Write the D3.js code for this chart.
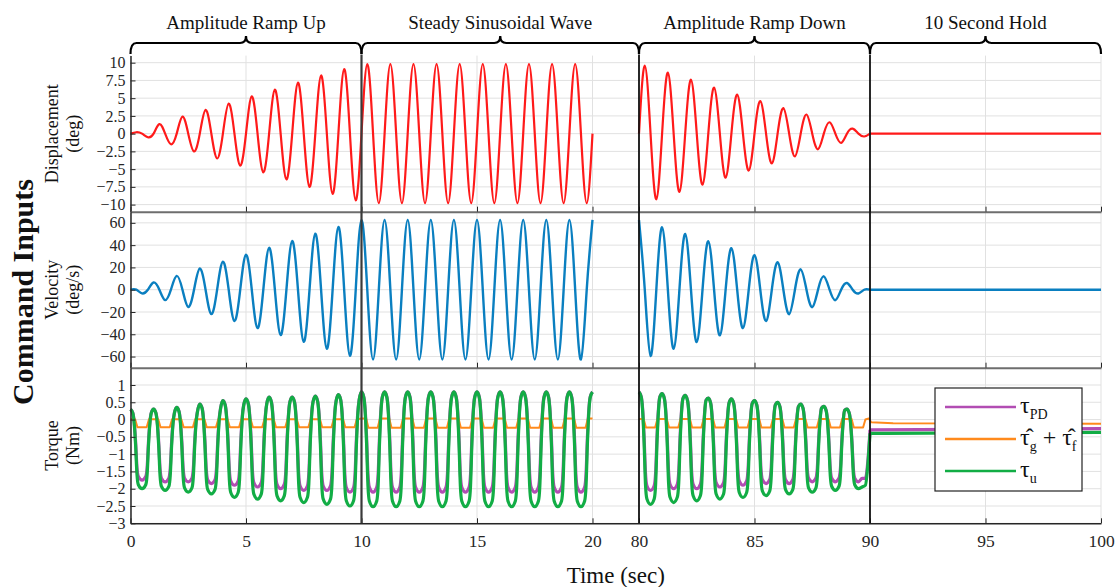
<!DOCTYPE html>
<html>
<head>
<meta charset="utf-8">
<script src="https://cdn.jsdelivr.net/npm/d3@7"></script>
<style>
  html, body { margin: 0; padding: 0; background: #fff; }
  svg { display: block; font-family: "Liberation Serif", "Times New Roman", serif; }
</style>
</head>
<body>
<svg id="chart" width="1119" height="587"></svg>
<script>
// ---------------- data ----------------
const xTicks = [0, 5, 10, 15, 20, 80, 85, 90, 95, 100];
const dispTicks = [-10, -7.5, -5, -2.5, 0, 2.5, 5, 7.5, 10];
const velTicks = [-60, -40, -20, 0, 20, 40, 60];
const torqueTicks = [-3, -2.5, -2, -1.5, -1, -0.5, 0, 0.5, 1];

const phaseNames = ["Amplitude Ramp Up", "Steady Sinusoidal Wave", "Amplitude Ramp Down", "10 Second Hold"];
const phaseFrom = [0, 10, 80, 90];
const phaseTo = [10, 80, 90, 100];

// one-second cycles in each moving phase
const rampUpCycles = [0, 1, 2, 3, 4, 5, 6, 7, 8, 9];
const steadyCycles = [10, 11, 12, 13, 14, 15, 16, 17, 18, 19];
const rampDownCycles = [80, 81, 82, 83, 84, 85, 86, 87, 88, 89];

// displacement (deg): crest at +0.25 s and trough at +0.75 s of each cycle
const dispRampUpHigh = [0.2, 1.35, 2.4, 3.35, 4.25, 5.25, 6.2, 7.2, 8.2, 9.1];
const dispRampUpLow = [-0.5, -1.5, -2.5, -3.5, -4.5, -5.45, -6.45, -7.5, -8.5, -9.4];
const dispSteadyHigh = [9.8, 9.8, 9.8, 9.8, 9.8, 9.8, 9.8, 9.8, 9.8, 9.8];
const dispSteadyLow = [-9.8, -9.8, -9.8, -9.8, -9.8, -9.8, -9.8, -9.8, -9.8, -9.8];
const dispRampDownHigh = [9.6, 8.6, 7.6, 6.5, 5.5, 4.6, 3.6, 2.7, 1.6, 0.7];
const dispRampDownLow = [-9.25, -8.2, -7.2, -6.2, -5.2, -4.2, -3.2, -2.2, -1.3, -0.4];

// velocity (deg/s): crest at the start of each cycle, trough at +0.5 s
const velRampUpHigh = [0, 6.5, 12.4, 19, 25.2, 31.4, 37.6, 43.8, 50.2, 56.4];
const velRampUpLow = [-3.3, -9.3, -15.6, -21.9, -28.2, -34.5, -40.7, -46.8, -53, -59.3];
const velSteadyHigh = [62.6, 62.6, 62.6, 62.6, 62.6, 62.6, 62.6, 62.6, 62.6, 62.6];
const velSteadyLow = [-62.6, -62.6, -62.6, -62.6, -62.6, -62.6, -62.6, -62.6, -62.6, -62.6];
const velRampDownHigh = [62.4, 56, 50, 43.6, 37.2, 31, 24.6, 18.3, 12, 6];
const velRampDownLow = [-59.4, -53, -47, -41, -34.5, -28.2, -22, -15.7, -9.4, -3.4];
const velEndOfSteady = 62.6;

// torque (Nm): crest at the start of each cycle, trough at +0.5 s
const tauURampUpHigh = [0.3, 0.3, 0.35, 0.45, 0.55, 0.6, 0.65, 0.65, 0.68, 0.72];
const tauURampUpLow = [-2.0, -2.05, -2.1, -2.15, -2.25, -2.3, -2.35, -2.4, -2.45, -2.5];
const tauUSteadyHigh = [0.8, 0.8, 0.8, 0.8, 0.8, 0.8, 0.8, 0.8, 0.8, 0.8];
const tauUSteadyLow = [-2.52, -2.52, -2.52, -2.52, -2.52, -2.52, -2.52, -2.52, -2.52, -2.52];
const tauURampDownHigh = [0.8, 0.75, 0.7, 0.62, 0.6, 0.55, 0.5, 0.45, 0.38, 0.3];
const tauURampDownLow = [-2.45, -2.4, -2.35, -2.3, -2.25, -2.2, -2.15, -2.1, -2.05, -2.0];
const tauUEndOfSteady = 0.8;
const tauUTail = [[89.66, -1.95], [89.8, -1.9], [89.92, -1.2], [90, -0.4]];
const tauUHold = [[90, -0.4], [90.5, -0.4], [100, -0.37]];

const tauPDRampUpLow = [-1.75, -1.8, -1.8, -1.85, -1.9, -1.95, -2.0, -2.05, -2.05, -2.1];
const tauPDSteadyLow = [-2.1, -2.1, -2.1, -2.1, -2.1, -2.1, -2.1, -2.1, -2.1, -2.1];
const tauPDRampDownLow = [-2.05, -2.0, -2.0, -1.95, -1.9, -1.85, -1.85, -1.8, -1.8, -1.8];
const tauPDTail = [[89.66, -1.7], [89.8, -1.7], [89.92, -1.1], [90, -0.3]];
const tauPDHold = [[90, -0.3], [100, -0.26]];

// gravity + friction estimate: upper and lower levels per phase
const tauGFHigh = [0.01, 0.03, 0.02];
const tauGFLow = [-0.22, -0.24, -0.23];
const tauGFHold = [[89.8, 0.0], [89.95, 0.03], [90.05, -0.08], [91, -0.11], [100, -0.12]];

// shape of one torque cycle: phase within the cycle and blend from crest (0) to trough (1)
const torquePhase = [0, 0.1, 0.16, 0.22, 0.28, 0.34, 0.5, 0.66, 0.72, 0.78, 0.84, 0.9];
const torqueBlend = [0, 0.05, 0.18, 0.45, 0.82, 0.95, 1, 0.95, 0.82, 0.45, 0.18, 0.05];
const gfPhase = [0, 0.2, 0.3, 0.7, 0.8];
const gfIsLow = [0, 0, 1, 1, 0];

// ---------------- layout ----------------
const svg = d3.select("#chart");
const X = d3.scaleLinear().domain([0, 20, 80, 100]).range([130.5, 592.5, 639, 1101]);
const panelTop = [55.6, 211.7, 367.7];
const panelBottom = [211.7, 367.7, 523.3];
const yDisp = d3.scaleLinear().domain([-11, 11]).range([panelBottom[0], panelTop[0]]);
const yVel = d3.scaleLinear().domain([-70, 70]).range([panelBottom[1], panelTop[1]]);
const yTq = d3.scaleLinear().domain([-3, 1.5]).range([panelBottom[2], panelTop[2]]);

const fmt = d => (d < 0 ? "\u2212" + Math.abs(d) : String(d));
const TICK_FONT = 16;

const panels = [
  { y: yDisp, ticks: dispTicks, label: ["Displacement", "(deg)"] },
  { y: yVel, ticks: velTicks, label: ["Velocity", "(deg/s)"] },
  { y: yTq, ticks: torqueTicks, label: ["Torque", "(Nm)"] }
];

// ---------------- series builders ----------------
function sineSeries(starts, highs, lows, crestFirst) {
  const pts = [];
  starts.forEach((s, i) => {
    if (crestFirst) {
      pts.push([s, highs[i]], [s + 0.25, 0], [s + 0.5, lows[i]], [s + 0.75, 0]);
    } else {
      pts.push([s, 0], [s + 0.25, highs[i]], [s + 0.5, 0], [s + 0.75, lows[i]]);
    }
  });
  return pts;
}
function torqueSeries(starts, highs, lows, lastFraction) {
  const pts = [];
  starts.forEach((s, i) => {
    torquePhase.forEach((p, k) => {
      if (i === starts.length - 1 && lastFraction !== undefined && p > lastFraction) return;
      pts.push([s + p, highs[i] + torqueBlend[k] * (lows[i] - highs[i])]);
    });
  });
  return pts;
}
function gfSeries(starts, hi, lo) {
  const pts = [];
  starts.forEach(s => gfPhase.forEach((p, k) => pts.push([s + p, gfIsLow[k] ? lo : hi])));
  return pts;
}

const dispA = sineSeries(rampUpCycles, dispRampUpHigh, dispRampUpLow, false)
  .concat(sineSeries(steadyCycles, dispSteadyHigh, dispSteadyLow, false), [[20, 0]]);
const dispB = sineSeries(rampDownCycles, dispRampDownHigh, dispRampDownLow, false).concat([[90, 0]]);
const dispC = [[90, 0], [100, 0]];

const velA = sineSeries(rampUpCycles, velRampUpHigh, velRampUpLow, true)
  .concat(sineSeries(steadyCycles, velSteadyHigh, velSteadyLow, true), [[20, velEndOfSteady]]);
const velB = sineSeries(rampDownCycles, velRampDownHigh, velRampDownLow, true).concat([[90, 0]]);
const velC = [[90, 0], [100, 0]];

const uA = torqueSeries(rampUpCycles, tauURampUpHigh, tauURampUpLow)
  .concat(torqueSeries(steadyCycles, tauUSteadyHigh, tauUSteadyLow), [[20, tauUEndOfSteady]]);
const uB = torqueSeries(rampDownCycles, tauURampDownHigh, tauURampDownLow, 0.6).concat(tauUTail);
const pdA = torqueSeries(rampUpCycles, tauURampUpHigh, tauPDRampUpLow)
  .concat(torqueSeries(steadyCycles, tauUSteadyHigh, tauPDSteadyLow), [[20, tauUEndOfSteady]]);
const pdB = torqueSeries(rampDownCycles, tauURampDownHigh, tauPDRampDownLow, 0.6).concat(tauPDTail);
const gfA = gfSeries(rampUpCycles, tauGFHigh[0], tauGFLow[0])
  .concat(gfSeries(steadyCycles, tauGFHigh[1], tauGFLow[1]), [[20, tauGFHigh[1]]]);
const gfB = gfSeries(rampDownCycles, tauGFHigh[2], tauGFLow[2]).filter(d => d[0] < 89.8).concat(tauGFHold);

// ---------------- grid ----------------
const grid = svg.append("g").attr("stroke", "#e1e1e1").attr("stroke-width", 1);
panels.forEach((p, i) => {
  p.ticks.forEach(t => grid.append("line")
    .attr("x1", X(0)).attr("x2", X(100)).attr("y1", p.y(t)).attr("y2", p.y(t)));
  xTicks.forEach(t => grid.append("line")
    .attr("x1", X(t)).attr("x2", X(t)).attr("y1", panelTop[i]).attr("y2", panelBottom[i]));
});

// ---------------- data lines ----------------
const plot = svg.append("g").attr("fill", "none").attr("stroke-linejoin", "round");
function draw(data, y, curve, color, width) {
  plot.append("path").datum(data)
    .attr("d", d3.line().x(d => X(d[0])).y(d => y(d[1])).curve(curve))
    .attr("stroke", color).attr("stroke-width", width);
}
const RED = "#ff1a1a", BLUE = "#0a7fc0", PURPLE = "#b24db3", ORANGE = "#ff8a1c", GREEN = "#12ad45";
[dispA, dispB].forEach(d => draw(d, yDisp, d3.curveNatural, RED, 2.2));
draw(dispC, yDisp, d3.curveLinear, RED, 2.2);
[velA, velB].forEach(d => draw(d, yVel, d3.curveNatural, BLUE, 2.4));
draw(velC, yVel, d3.curveLinear, BLUE, 2.4);
[pdA, pdB, tauPDHold].forEach(d => draw(d, yTq, d3.curveMonotoneX, PURPLE, 3.2));
[gfA, gfB].forEach(d => draw(d, yTq, d3.curveLinear, ORANGE, 2));
[uA, uB, tauUHold].forEach(d => draw(d, yTq, d3.curveMonotoneX, GREEN, 3.2));

// ---------------- axes ----------------
panels.forEach((p, i) => {
  const gl = svg.append("g").attr("transform", `translate(${X(0)},0)`)
    .call(d3.axisLeft(p.y).tickValues(p.ticks).tickSizeInner(-5).tickSizeOuter(0).tickPadding(5).tickFormat(fmt));
  gl.select(".domain").attr("stroke", "#262626").attr("stroke-width", 1.5);
  gl.selectAll(".tick line").attr("stroke", "#262626");
  gl.selectAll(".tick text").attr("font-size", TICK_FONT).attr("fill", "#262626")
    .attr("font-family", "Liberation Serif, serif");

  const gb = svg.append("g").attr("transform", `translate(0,${panelBottom[i]})`)
    .call(d3.axisBottom(X).tickValues(xTicks).tickSizeInner(-5).tickSizeOuter(0).tickPadding(11)
      .tickFormat(i === 2 ? d => String(d) : () => ""));
  gb.select(".domain").attr("stroke", i === 2 ? "#262626" : "#6e6e6e").attr("stroke-width", i === 2 ? 1.5 : 2);
  gb.selectAll(".tick line").attr("stroke", "#262626");
  gb.selectAll(".tick text").attr("font-size", 17.5).attr("fill", "#262626")
    .attr("font-family", "Liberation Serif, serif");

  // two-line axis title
  const cy = (panelTop[i] + panelBottom[i]) / 2;
  p.label.forEach((s, k) => svg.append("text")
    .attr("transform", `translate(${k === 0 ? 58 : 79},${cy}) rotate(-90)`)
    .attr("text-anchor", "middle").attr("font-size", 18).attr("fill", "#111").text(s));
});

// phase boundaries and axis break
[[10, "#3a3a3a", 2.2], [80, "#111", 1.8], [90, "#111", 1.8]].forEach(([t, c, w]) =>
  svg.append("line").attr("x1", X(t)).attr("x2", X(t))
    .attr("y1", panelTop[0] - 1).attr("y2", panelBottom[2])
    .attr("stroke", c).attr("stroke-width", w));

// ---------------- phase braces ----------------
const braceY = 43, braceEnd = 54, braceTip = 36, r = 6;
phaseNames.forEach((name, i) => {
  const x1 = X(phaseFrom[i]), x2 = X(phaseTo[i]), xm = (x1 + x2) / 2;
  const path = `M${x1},${braceEnd} Q${x1},${braceY} ${x1 + r},${braceY} L${xm - r},${braceY}` +
    ` Q${xm},${braceY} ${xm},${braceTip} Q${xm},${braceY} ${xm + r},${braceY}` +
    ` L${x2 - r},${braceY} Q${x2},${braceY} ${x2},${braceEnd}`;
  svg.append("path").attr("d", path).attr("fill", "none").attr("stroke", "#000").attr("stroke-width", 2.2);
  svg.append("text").attr("x", xm).attr("y", 29).attr("text-anchor", "middle")
    .attr("font-size", 19).attr("fill", "#111").text(name);
});

// ---------------- titles ----------------
svg.append("text").attr("x", (X(0) + X(100)) / 2).attr("y", 583).attr("text-anchor", "middle")
  .attr("font-size", 23).attr("fill", "#111").text("Time (sec)");
svg.append("text").attr("transform", `translate(33,292) rotate(-90)`).attr("text-anchor", "middle")
  .attr("font-size", 30).attr("font-weight", "bold").attr("fill", "#111").text("Command Inputs");

// ---------------- legend ----------------
const lg = svg.append("g");
lg.append("rect").attr("x", 935).attr("y", 388).attr("width", 147).attr("height", 103)
  .attr("fill", "#fff").attr("stroke", "#222").attr("stroke-width", 1.2);
const legendRows = [
  { color: PURPLE, y: 407, parts: [["\u03C4", 0], ["PD", 1]] },
  { color: ORANGE, y: 439, parts: [["\u03C4\u0302", 0], ["g", 1], [" + ", 0], ["\u03C4\u0302", 0], ["f", 1]] },
  { color: GREEN, y: 471, parts: [["\u03C4", 0], ["u", 1]] }
];
legendRows.forEach(row => {
  lg.append("line").attr("x1", 945).attr("x2", 1016).attr("y1", row.y).attr("y2", row.y)
    .attr("stroke", row.color).attr("stroke-width", 2.6);
  const t = lg.append("text").attr("x", 1020).attr("y", row.y + 6).attr("fill", "#111");
  row.parts.forEach(([s, sub], k) => {
    const ts = t.append("tspan").text(s).attr("font-size", sub ? 14 : 24);
    if (sub) ts.attr("dy", 6);
    else if (k > 0 && row.parts[k - 1][1]) ts.attr("dy", -6);
  });
});
</script>
</body>
</html>
